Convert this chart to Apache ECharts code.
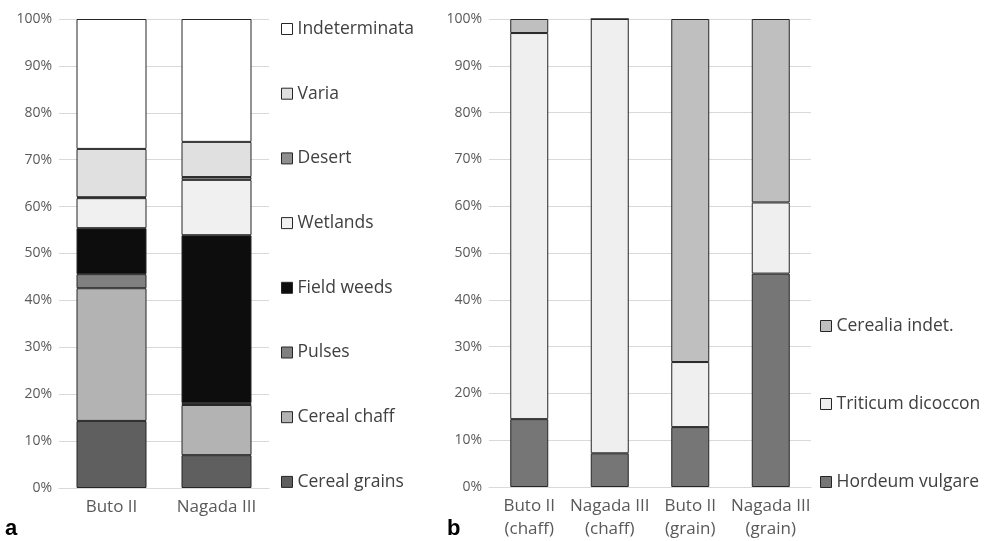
<!DOCTYPE html>
<html><head><meta charset="utf-8">
<script src="https://cdn.jsdelivr.net/npm/echarts@6/dist/echarts.min.js"></script>
<style>html,body{margin:0;padding:0;background:#fff}#c{width:1003px;height:541px}</style>
</head><body><div id="c"></div>
<script>
// Panel a
const sitesA = ['Buto II', 'Nagada III'];
const namesA = ['Cereal grains','Cereal chaff','Pulses','Field weeds','Wetlands','Desert','Varia','Indeterminata'];
const cerealGrains = [14.3, 7.0];
const cerealChaff = [28.3, 10.7];
const pulses = [3.0, 0.4];
const fieldWeeds = [9.8, 35.8];
const wetlands = [6.4, 11.8];
const desert = [0.2, 0.6];
const varia = [10.3, 7.5];
const indeterminata = [27.7, 26.2];
const colorsA = ['#5f5f5f','#b3b3b3','#808080','#0d0d0d','#f0f0f0','#8f8f8f','#e0e0e0','#ffffff'];
// Panel b
const catsB = ['Buto II\n(chaff)','Nagada III\n(chaff)','Buto II\n(grain)','Nagada III\n(grain)'];
const namesB = ['Hordeum vulgare','Triticum dicoccon','Cerealia indet.'];
const hordeum = [14.5, 7.2, 12.8, 45.6];
const triticum = [82.5, 92.8, 13.9, 15.2];
const cerealia = [3.0, 0.0, 73.3, 39.2];
const colorsB = ['#767676','#efefef','#bfbfbf'];
const yTicks = [0,10,20,30,40,50,60,70,80,90,100];

const FONT = 'Open Sans';
const dataA = [cerealGrains, cerealChaff, pulses, fieldWeeds, wetlands, desert, varia, indeterminata];
const dataB = [hordeum, triticum, cerealia];

function yAxis(gi){
  return {gridIndex: gi, type:'value', min: yTicks[0], max: yTicks[yTicks.length-1], interval: 10,
    axisLabel:{formatter: v => v + '%', color:'#595959', fontFamily: FONT, fontSize: 14, margin: 7},
    axisLine:{show:false}, axisTick:{show:false},
    splitLine:{lineStyle:{color:'#d9d9d9', width:1}}};
}
function xAxis(gi, cats){
  return {gridIndex: gi, type:'category', data: cats,
    axisLabel:{color:'#595959', fontFamily: FONT, fontSize: 17, lineHeight: 23, margin: 8, interval: 0},
    axisLine:{lineStyle:{color:'#d9d9d9'}}, axisTick:{show:false}};
}
const series = [];
namesA.forEach((n,i)=>series.push({name:n, type:'bar', stack:'a', xAxisIndex:0, yAxisIndex:0,
  barWidth: 70, data: dataA[i], itemStyle:{color: colorsA[i], borderColor:'#262626', borderWidth:1}}));
namesB.forEach((n,i)=>series.push({name:n, type:'bar', stack:'b', xAxisIndex:1, yAxisIndex:1,
  barWidth: 38, data: dataB[i], itemStyle:{color: colorsB[i], borderColor:'#262626', borderWidth:1}}));

const chart = echarts.init(document.getElementById('c'), null, {renderer:'canvas'});
chart.setOption({
  animation:false,
  backgroundColor:'#fff',
  grid:[{left:59, top:19, width:210, height:469},{left:489, top:19, width:322, height:469}],
  xAxis:[xAxis(0, sitesA), xAxis(1, catsB)],
  yAxis:[yAxis(0), yAxis(1)],
  legend:[
    {data: namesA.slice().reverse(), orient:'vertical', left:276, top:14, itemWidth:11, itemHeight:11,
     itemGap:44.7, icon:'rect', itemStyle:{borderColor:'#262626', borderWidth:1},
     textStyle:{color:'#404040', fontFamily: FONT, fontSize:17.5, lineHeight:20}},
    {data: namesB.slice().reverse(), orient:'vertical', left:815, top:311, itemWidth:11, itemHeight:11,
     itemGap:58, icon:'rect', itemStyle:{borderColor:'#262626', borderWidth:1},
     textStyle:{color:'#404040', fontFamily: FONT, fontSize:17.5, lineHeight:20}}
  ],
  graphic:[
    {type:'text', left:5, top:518, style:{text:'a', font:'bold 22px Liberation Sans', fill:'#000'}},
    {type:'text', left:447, top:518, style:{text:'b', font:'bold 22px Liberation Sans', fill:'#000'}}
  ],
  series: series
});
</script></body></html>
